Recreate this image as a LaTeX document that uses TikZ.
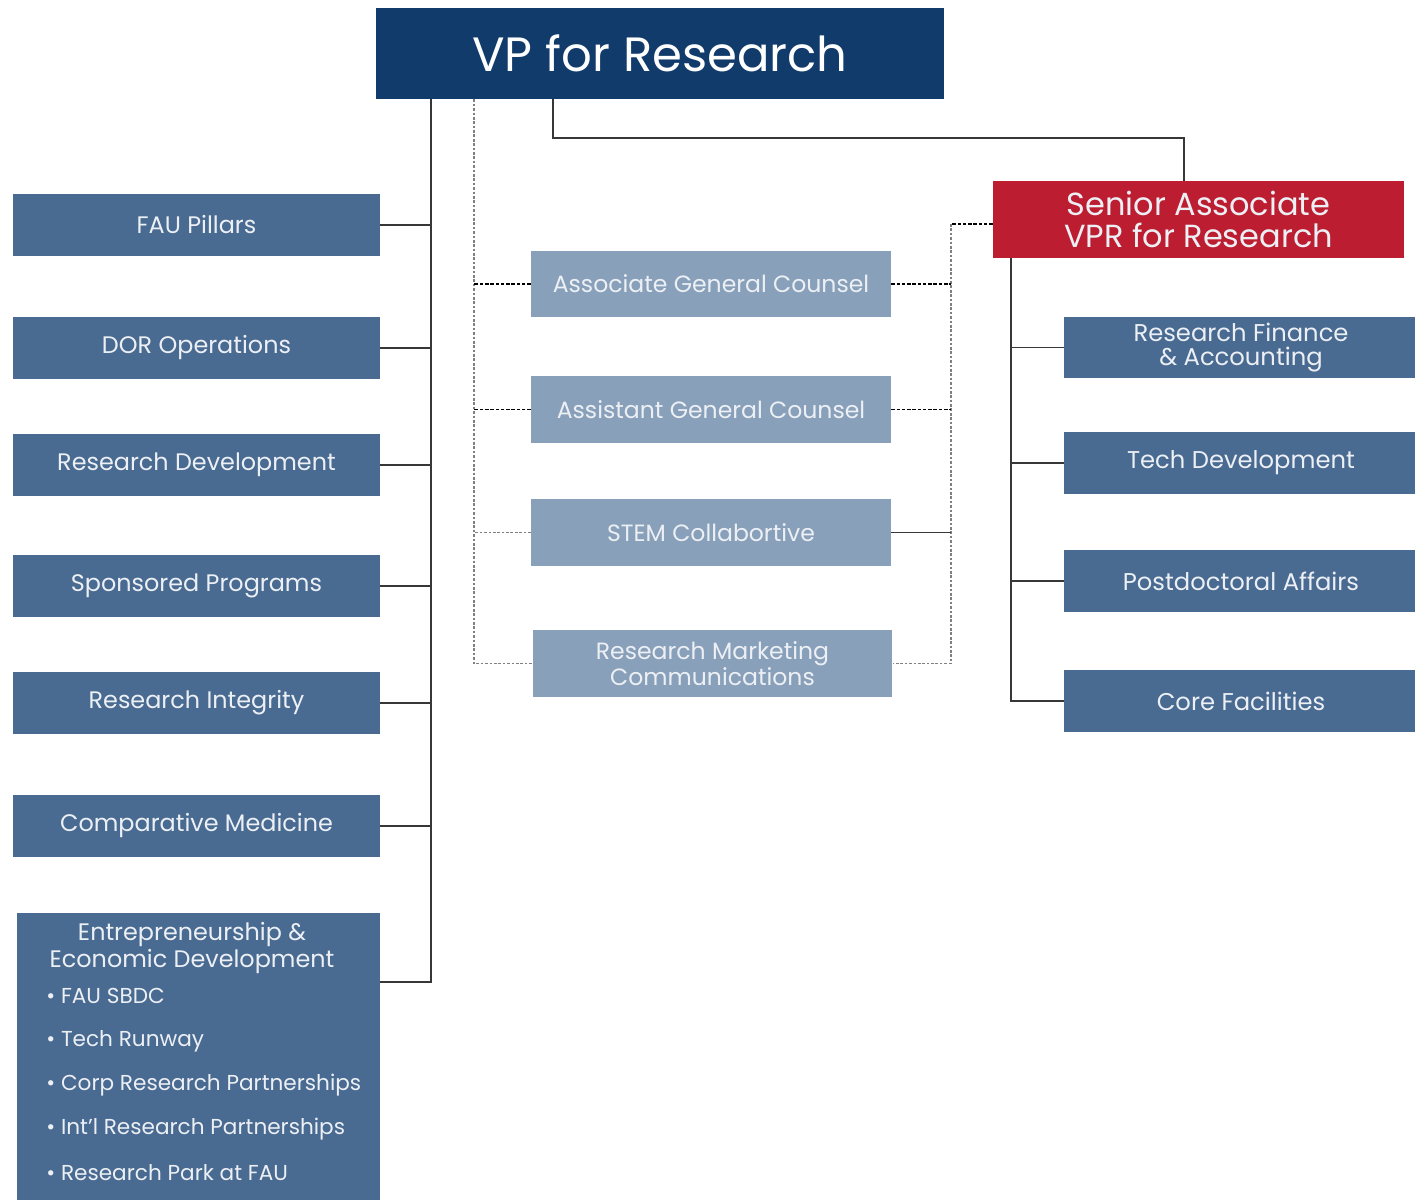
\documentclass[tikz,border=0pt]{standalone}
\usepackage{fontspec}
\setmainfont{Poppins}
\usetikzlibrary{calc}
\definecolor{fau_navy}{RGB}{17,59,107}
\definecolor{fau_blue}{RGB}{73,106,145}
\definecolor{fau_light}{RGB}{137,160,186}
\definecolor{fau_red}{RGB}{189,29,49}
\definecolor{fau_text}{RGB}{236,240,245}
\definecolor{line_grey}{RGB}{55,55,55}
\tikzstyle{vp}=[rectangle,fill=fau_navy,text=white,inner sep=0pt,
  minimum width=11.36cm,minimum height=1.82cm,font=\fontsize{27.4}{30}\selectfont]
\tikzstyle{senior}=[rectangle,fill=fau_red,text=fau_text,inner sep=0pt,align=center,
  minimum width=8.22cm,minimum height=1.54cm,font=\fontsize{18.2}{18}\selectfont]
\tikzstyle{dept}=[rectangle,fill=fau_blue,text=fau_text,inner sep=0pt,align=center,
  minimum width=7.34cm,minimum height=1.24cm,font=\fontsize{13.6}{13.6}\selectfont]
\tikzstyle{unit}=[dept,minimum width=7.08cm,font=\fontsize{13.8}{13.6}\selectfont]
\tikzstyle{counsel}=[rectangle,fill=fau_light,text=fau_text,inner sep=0pt,align=center,
  minimum width=7.2cm,minimum height=1.34cm,font=\fontsize{13.4}{13.6}\selectfont]
\tikzstyle{bigbox}=[rectangle,fill=fau_blue,inner sep=0pt,
  minimum width=7.26cm,minimum height=6.04cm]
\tikzstyle{boxtext}=[text=fau_text,inner sep=0pt,align=center,font=\fontsize{13.6}{13}\selectfont]
\tikzstyle{item}=[text=fau_text,inner sep=0pt,anchor=west,font=\fontsize{12.3}{13}\selectfont]
\tikzstyle{conn}=[draw=line_grey,line width=1.1pt]
\tikzstyle{dots}=[draw=gray,line width=0.6pt,dash pattern=on 1.5pt off 1pt]
\tikzstyle{dash_link}=[draw=black,line width=0.8pt,dash pattern=on 2pt off 1pt]
\tikzstyle{none}=[]

\begin{document}
\begin{tikzpicture}[x=0.02cm,y=-0.02cm]
            \useasboundingbox (0,0) rectangle (1415,1199);
            % top
            \node [style=vp] (vp) at (660, 53.5) {VP for Research};
            \node [style=senior] (senior) at (1198.5, 219.5) {Senior Associate\\VPR for Research};
            % left column
            \node [style=dept] (pillars) at (196.5, 225) {FAU Pillars};
            \node [style=dept] (dor) at (196.5, 348) {DOR Operations};
            \node [style=dept] (resdev) at (196.5, 465) {Research Development};
            \node [style=dept] (sponsored) at (196.5, 586) {Sponsored Programs};
            \node [style=dept] (integrity) at (196.5, 703) {Research Integrity};
            \node [style=dept] (compmed) at (196.5, 826) {Comparative Medicine};
            \node [style=bigbox] (ent) at (198.5, 1064) {};
            \node [style=boxtext] (enttitle) at (192, 948) {Entrepreneurship \&\\Economic Development};
            \node [style=item] (sbdc) at (46, 996) {\textbullet\ FAU SBDC};
            \node [style=item] (runway) at (46, 1041) {\textbullet\ Tech Runway};
            \node [style=item] (corp) at (46, 1085) {\textbullet\ Corp Research Partnerships};
            \node [style=item] (intl) at (46, 1129) {\textbullet\ Int'l Research Partnerships};
            \node [style=item] (park) at (46, 1173) {\textbullet\ Research Park at FAU};
            % middle column
            \node [style=counsel] (assoc) at (711, 284) {Associate General Counsel};
            \node [style=counsel] (assist) at (711, 409.5) {Assistant General Counsel};
            \node [style=counsel] (stem) at (711, 532.5) {STEM Collabortive};
            \node [style=counsel] (marketing) at (712.5, 663.5) {Research Marketing\\Communications};
            % right column
            \node [style=unit] (finance) at (1241, 347.5) {Research Finance\\\& Accounting};
            \node [style=unit] (techdev) at (1241, 463) {Tech Development};
            \node [style=unit] (postdoc) at (1241, 581) {Postdoctoral Affairs};
            \node [style=unit] (core) at (1241, 701) {Core Facilities};
            % trunks
            \coordinate (ltrunk) at (431, 982);
            \coordinate (dtrunk) at (474, 0);
            \coordinate (rtrunk) at (951, 224);
            \coordinate (strunk) at (1011, 0);
            \coordinate (bend) at (553, 138);
            \coordinate (bend2) at (1184, 138);
            \draw [style=conn] (vp.south -| ltrunk) to (ltrunk) to (ltrunk -| ent.east);
            \draw [style=conn] (pillars) to (pillars -| ltrunk);
            \draw [style=conn] (dor) to (dor -| ltrunk);
            \draw [style=conn] (resdev) to (resdev -| ltrunk);
            \draw [style=conn] (sponsored) to (sponsored -| ltrunk);
            \draw [style=conn] (integrity) to (integrity -| ltrunk);
            \draw [style=conn] (compmed) to (compmed -| ltrunk);
            \draw [style=conn] (vp.south -| bend) to (bend) to (bend2) to (bend2 |- senior.north);
            \draw [style=dots] (vp.south -| dtrunk) to (marketing -| dtrunk) to (marketing);
            \draw [style=dash_link] (assoc) to (assoc -| dtrunk);
            \draw [style=dash_link] (assist) to (assist -| dtrunk);
            \draw [style=dots] (stem) to (stem -| dtrunk);
            \draw [style=dash_link] (senior.west |- rtrunk) to (rtrunk);
            \draw [style=dots] (rtrunk) to (marketing -| rtrunk) to (marketing);
            \draw [style=dash_link] (assoc) to (assoc -| rtrunk);
            \draw [style=dash_link] (assist) to (assist -| rtrunk);
            \draw [style=conn] (stem) to (stem -| rtrunk);
            \draw [style=conn] (senior.south -| strunk) to (core -| strunk) to (core);
            \draw [style=conn] (finance) to (finance -| strunk);
            \draw [style=conn] (techdev) to (techdev -| strunk);
            \draw [style=conn] (postdoc) to (postdoc -| strunk);
    \end{tikzpicture}
\end{document}
